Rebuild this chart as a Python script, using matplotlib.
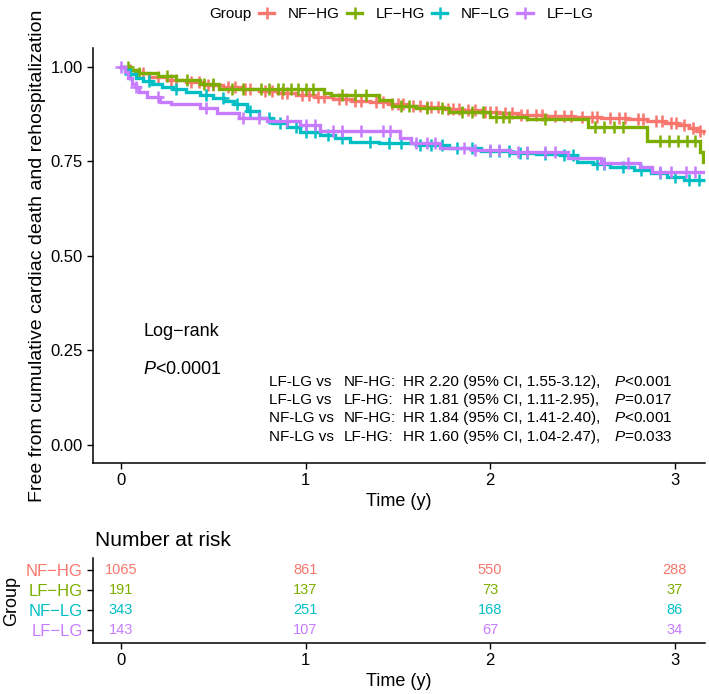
import numpy as np
import matplotlib
matplotlib.use("Agg")
import matplotlib.pyplot as plt
from matplotlib.lines import Line2D

plt.rcParams['font.family'] = ['Liberation Sans', 'DejaVu Sans']
plt.rcParams['mathtext.fontset'] = 'custom'
plt.rcParams['mathtext.rm'] = 'Liberation Sans'
plt.rcParams['mathtext.it'] = 'Liberation Sans:italic'

# ---- datos ----
groups = ['NF-HG', 'LF-HG', 'NF-LG', 'LF-LG']
colors = ['#F8766D', '#7CAE00', '#00BFC4', '#C77CFF']

t_nfhg = [0, 0.03, 0.08, 0.15, 0.25, 0.35, 0.45, 0.55, 0.65, 0.75, 0.85, 0.95, 1.05, 1.15,
          1.25, 1.35, 1.45, 1.55, 1.65, 1.75, 1.85, 1.95, 2.05, 2.15, 2.3, 2.45, 2.6, 2.75,
          2.85, 2.95, 3.02, 3.08, 3.12, 3.16]
s_nfhg = [1.0, 0.99, 0.982, 0.972, 0.965, 0.958, 0.952, 0.946, 0.941, 0.936, 0.931, 0.926,
          0.92, 0.915, 0.91, 0.906, 0.902, 0.897, 0.892, 0.888, 0.884, 0.879, 0.876, 0.873,
          0.87, 0.867, 0.864, 0.86, 0.855, 0.85, 0.845, 0.838, 0.83, 0.823]

t_lfhg = [0, 0.05, 0.1, 0.2, 0.3, 0.43, 0.53, 1.1, 1.14, 1.4, 1.47, 1.6, 1.78, 2.0, 2.2,
          2.53, 2.85, 3.14, 3.155]
s_lfhg = [1.0, 0.99, 0.982, 0.975, 0.965, 0.953, 0.94, 0.93, 0.924, 0.912, 0.895, 0.89,
          0.88, 0.866, 0.86, 0.84, 0.803, 0.775, 0.748]

t_nflg = [0, 0.02, 0.05, 0.08, 0.12, 0.17, 0.22, 0.28, 0.35, 0.43, 0.5, 0.56, 0.61, 0.68,
          0.75, 0.82, 0.9, 0.97, 1.08, 1.16, 1.24, 1.4, 1.6, 1.78, 1.95, 2.11, 2.25, 2.38,
          2.47, 2.56, 2.65, 2.78, 2.87, 2.96, 3.05]
s_nflg = [1.0, 0.99, 0.98, 0.97, 0.963, 0.955, 0.947, 0.94, 0.932, 0.925, 0.917, 0.909,
          0.9, 0.883, 0.865, 0.852, 0.84, 0.826, 0.818, 0.81, 0.8, 0.798, 0.793, 0.785,
          0.778, 0.772, 0.77, 0.765, 0.748, 0.742, 0.735, 0.727, 0.718, 0.708, 0.7]

t_lflg = [0, 0.02, 0.04, 0.06, 0.08, 0.1, 0.14, 0.21, 0.27, 0.43, 0.52, 0.64, 0.79, 0.97,
          1.08, 1.51, 1.57, 1.73, 1.9, 2.11, 2.42, 2.6, 2.81, 2.88]
s_lflg = [1.0, 0.985, 0.97, 0.955, 0.945, 0.933, 0.92, 0.907, 0.9, 0.89, 0.878, 0.865,
          0.855, 0.846, 0.83, 0.811, 0.798, 0.785, 0.78, 0.775, 0.758, 0.745, 0.735, 0.722]

# censuras (marcas +)
c_nfhg = [0.05, 0.12, 0.2, 0.27, 0.3, 0.38, 0.42, 0.47, 0.5, 0.58, 0.62, 0.67, 0.7, 0.78,
          0.82, 0.87, 0.9, 0.98, 1.02, 1.07, 1.1, 1.18, 1.22, 1.27, 1.3, 1.38, 1.42, 1.47,
          1.5, 1.53, 1.58, 1.62, 1.66, 1.68, 1.72, 1.77, 1.8, 1.83, 1.88, 1.92, 1.97, 2.0,
          2.03, 2.08, 2.12, 2.17, 2.2, 2.25, 2.28, 2.35, 2.4, 2.44, 2.5, 2.55, 2.58, 2.65,
          2.7, 2.73, 2.8, 2.83, 2.9, 2.93, 2.98, 3.01, 3.05, 3.1, 3.14]
c_lfhg = [0.04, 0.1, 0.25, 0.36, 0.45, 0.5, 0.6, 0.66, 0.76, 0.8, 0.85, 0.88, 0.92, 0.96,
          1.0, 1.04, 1.2, 1.27, 1.33, 1.52, 1.56, 1.66, 1.74, 1.85, 1.9, 1.96, 2.03, 2.07,
          2.1, 2.3, 2.57, 2.62, 2.67, 2.72, 2.92, 2.97, 3.02, 3.07, 3.11]
c_nflg = [0.05, 0.15, 0.3, 0.46, 0.55, 0.63, 0.7, 0.8, 0.86, 0.95, 1.0, 1.05, 1.12, 1.2,
          1.35, 1.45, 1.52, 1.62, 1.68, 1.74, 1.82, 1.9, 2.0, 2.05, 2.1, 2.16, 2.2, 2.3,
          2.4, 2.45, 2.58, 2.62, 2.72, 2.82, 2.92, 3.0, 3.08, 3.13]
c_lflg = [0.0, 0.08, 0.2, 0.46, 0.66, 0.75, 0.9, 1.0, 1.05, 1.15, 1.2, 1.3, 1.42, 1.46,
          1.6, 1.66, 1.7, 1.86, 1.92, 2.0, 2.05, 2.15, 2.2, 2.3, 2.35, 2.62, 2.75, 2.92,
          2.98, 3.06, 3.11]

times = [t_nfhg, t_lfhg, t_nflg, t_lflg]
survs = [s_nfhg, s_lfhg, s_nflg, s_lflg]
cens = [c_nfhg, c_lfhg, c_nflg, c_lflg]
t_end = [3.16, 3.16, 3.16, 3.16]

risk_times = [0, 1, 2, 3]
n_risk = [[1065, 861, 550, 288],
          [191, 137, 73, 37],
          [343, 251, 168, 86],
          [143, 107, 67, 34]]

hr_text = [['LF-LG vs', 'NF-HG:', 'HR 2.20 (95% CI, 1.55-3.12),', '$P$<0.001'],
           ['LF-LG vs', 'LF-HG:', 'HR 1.81 (95% CI, 1.11-2.95),', '$P$=0.017'],
           ['NF-LG vs', 'NF-HG:', 'HR 1.84 (95% CI, 1.41-2.40),', '$P$<0.001'],
           ['NF-LG vs', 'LF-HG:', 'HR 1.60 (95% CI, 1.04-2.47),', '$P$=0.033']]

# ---- figura ----
W, H = 709, 694
fig = plt.figure(figsize=(W / 100, H / 100), dpi=100)

def px_axes(l, t, r, b):
    return fig.add_axes([l / W, 1 - b / H, (r - l) / W, (b - t) / H])

ax = px_axes(93, 48, 705, 463)
xlim = (-0.152, 3.165)

for tt, ss, cc, te, col in zip(times, survs, cens, t_end, colors):
    tt = np.array(tt + [te])
    ss = np.array(ss + [ss[-1]])
    ax.step(tt, ss, where='post', color=col, lw=2.4, solid_joinstyle='miter')
    cc = np.array(cc)
    idx = np.searchsorted(tt, cc, side='right') - 1
    ax.plot(cc, ss[idx], ls='none', marker='+', ms=8, mew=1.8, color=col)

ax.set_xlim(*xlim)
ax.set_ylim(-0.048, 1.049)
ax.set_xticks([0, 1, 2, 3])
ax.set_yticks([0, 0.25, 0.5, 0.75, 1.0])
ax.set_yticklabels(['0.00', '0.25', '0.50', '0.75', '1.00'])
for s in ['top', 'right']:
    ax.spines[s].set_visible(False)
for s in ['left', 'bottom']:
    ax.spines[s].set_linewidth(1.1)
ax.tick_params(labelsize=12, width=1.0, length=4, colors='black')
ax.set_xlabel('Time (y)', fontsize=13, labelpad=3)
ax.set_ylabel('Free from cumulative cardiac death and rehospitalization', fontsize=14,
              labelpad=3)

ax.text(0.12, 0.30, 'Log\u2212rank', fontsize=13, va='center')
ax.text(0.12, 0.198, '$P$<0.0001', fontsize=13, va='center')

col_x = [0.8, 1.205, 1.53, 2.67]
row_y = [0.167, 0.119, 0.071, 0.021]
for row, yy in zip(hr_text, row_y):
    for txt, xx in zip(row, col_x):
        ax.text(xx, yy, txt, fontsize=11, va='center')

# leyenda
fig.text(209 / W, 1 - 14 / H, 'Group', fontsize=11, va='center', ha='left')
handles = [Line2D([0], [0], color=c, lw=2.4, marker='+', ms=8, mew=1.8) for c in colors]
fig.legend(handles, [g.replace('-', '\u2212') for g in groups], ncol=4, frameon=False,
           loc='center left', bbox_to_anchor=(253 / W, 1 - 14 / H), fontsize=11,
           handlelength=1.0, handletextpad=0.9, columnspacing=0.45, borderaxespad=0)

# tabla de riesgo
ax2 = px_axes(93, 558, 705, 643)
ypos = [4, 3, 2, 1]
for nr, yy, col in zip(n_risk, ypos, colors):
    for tt, n in zip(risk_times, nr):
        ax2.text(tt, yy, str(n), color=col, fontsize=10.5, ha='center', va='center')
ax2.set_xlim(*xlim)
ax2.set_ylim(0.35, 4.6)
ax2.set_xticks([0, 1, 2, 3])
ax2.set_yticks(ypos)
ax2.set_yticklabels([g.replace('-', '\u2212') for g in groups], fontsize=12)
for lab, col in zip(ax2.get_yticklabels(), colors):
    lab.set_color(col)
for s in ['top', 'right']:
    ax2.spines[s].set_visible(False)
for s in ['left', 'bottom']:
    ax2.spines[s].set_linewidth(1.1)
ax2.tick_params(axis='x', labelsize=12, width=1.0, length=4)
ax2.tick_params(axis='y', width=1.0, length=4)
ax2.set_xlabel('Time (y)', fontsize=13, labelpad=3)
ax2.set_ylabel('Group', fontsize=13, labelpad=4)
fig.text(95 / W, 1 - 540 / H, 'Number at risk', fontsize=15, va='center', ha='left')

fig.savefig('out.png', dpi=100)
